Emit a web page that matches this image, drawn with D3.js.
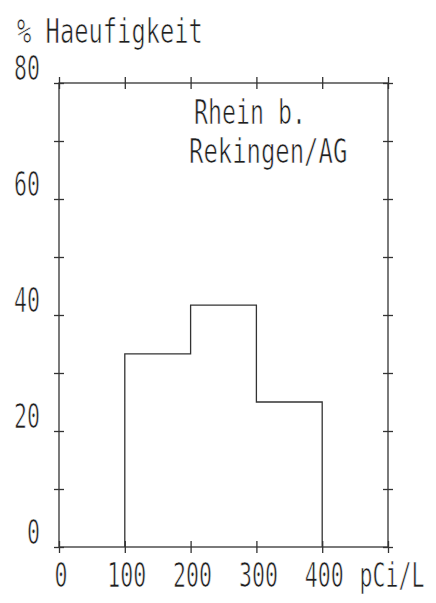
<!DOCTYPE html>
<html><head><meta charset="utf-8">
<script src="https://cdn.jsdelivr.net/npm/d3@7"></script>
<style>
html,body{margin:0;padding:0;background:#fff;}
svg text{font-family:"DejaVu Sans Mono",monospace;fill:#1e1e1e;}
</style></head>
<body>
<svg id="c" width="436" height="603"></svg>
<script>
// Data
const binStarts = [100, 200, 300];
const binEnds   = [200, 300, 400];
const freqs     = [33.3, 41.7, 25.0];
const yTickLabels = ["0", "20", "40", "60", "80"];
const yTickLabelValues = [0, 20, 40, 60, 80];
const xTickLabels = ["0", "100", "200", "300", "400", "pCi/L"];
const xTickValues = [0, 100, 200, 300, 400, 500];
const yTitle = "% Haeufigkeit";
const noteLines = ["Rhein b.", "Rekingen/AG"];

const svg = d3.select("#c");
const x = d3.scaleLinear().domain([0, 500]).range([59, 388]);
const y = d3.scaleLinear().domain([0, 80]).range([547, 83]);
const ink = "#333";
const lw = 1.3;

// frame
svg.append("rect").attr("x", x(0)).attr("y", y(80))
  .attr("width", x(500) - x(0)).attr("height", y(0) - y(80))
  .attr("fill", "none").attr("stroke", ink).attr("stroke-width", lw);

const yTicks = d3.range(0, 81, 10);
function crossTicksY(xpos) {
  const g = svg.append("g").attr("transform", `translate(${xpos},0)`)
    .call(d3.axisLeft(y).tickValues(yTicks).tickSize(0).tickFormat(""));
  g.select(".domain").remove();
  g.selectAll(".tick line").attr("x1", -5).attr("x2", 5)
    .attr("stroke", ink).attr("stroke-width", lw);
}
function crossTicksX(ypos) {
  const g = svg.append("g").attr("transform", `translate(0,${ypos})`)
    .call(d3.axisBottom(x).tickValues(xTickValues).tickSize(0).tickFormat(""));
  g.select(".domain").remove();
  g.selectAll(".tick line").attr("y1", -6).attr("y2", 6)
    .attr("stroke", ink).attr("stroke-width", lw);
}
crossTicksY(x(0)); crossTicksY(x(500));
crossTicksX(y(0)); crossTicksX(y(80));

// histogram step outline
const pts = [[binStarts[0], 0]];
freqs.forEach((f, i) => { pts.push([binStarts[i], f]); pts.push([binEnds[i], f]); });
pts.push([binEnds[binEnds.length - 1], 0]);
svg.append("path")
  .attr("d", d3.line().x(d => x(d[0])).y(d => y(d[1]))(pts))
  .attr("fill", "none").attr("stroke", ink).attr("stroke-width", lw);

const fs = 33;
function txt(s, xx, yy, anchor, perChar) {
  const sx = perChar / (0.602 * fs);
  svg.append("text")
    .attr("transform", `translate(${xx},${yy}) scale(${sx},1)`)
    .attr("text-anchor", anchor)
    .attr("font-size", fs)
    .attr("stroke", "#fff").attr("stroke-width", 0.6)
    .attr("vector-effect", "non-scaling-stroke")
    .text(s);
}
// y labels
yTickLabelValues.forEach((v, i) => txt(yTickLabels[i], 40, y(v) - 3, "end", 13));
// x labels
xTickValues.forEach((v, i) => txt(xTickLabels[i], x(v) + (i === 5 ? 4 : 2), 587, "middle", 13));
// title
txt(yTitle, 17, 43, "start", 14.3);
// note
txt(noteLines[0], 194, 124, "start", 14);
txt(noteLines[1], 189, 163, "start", 14.4);
</script>
</body></html>
